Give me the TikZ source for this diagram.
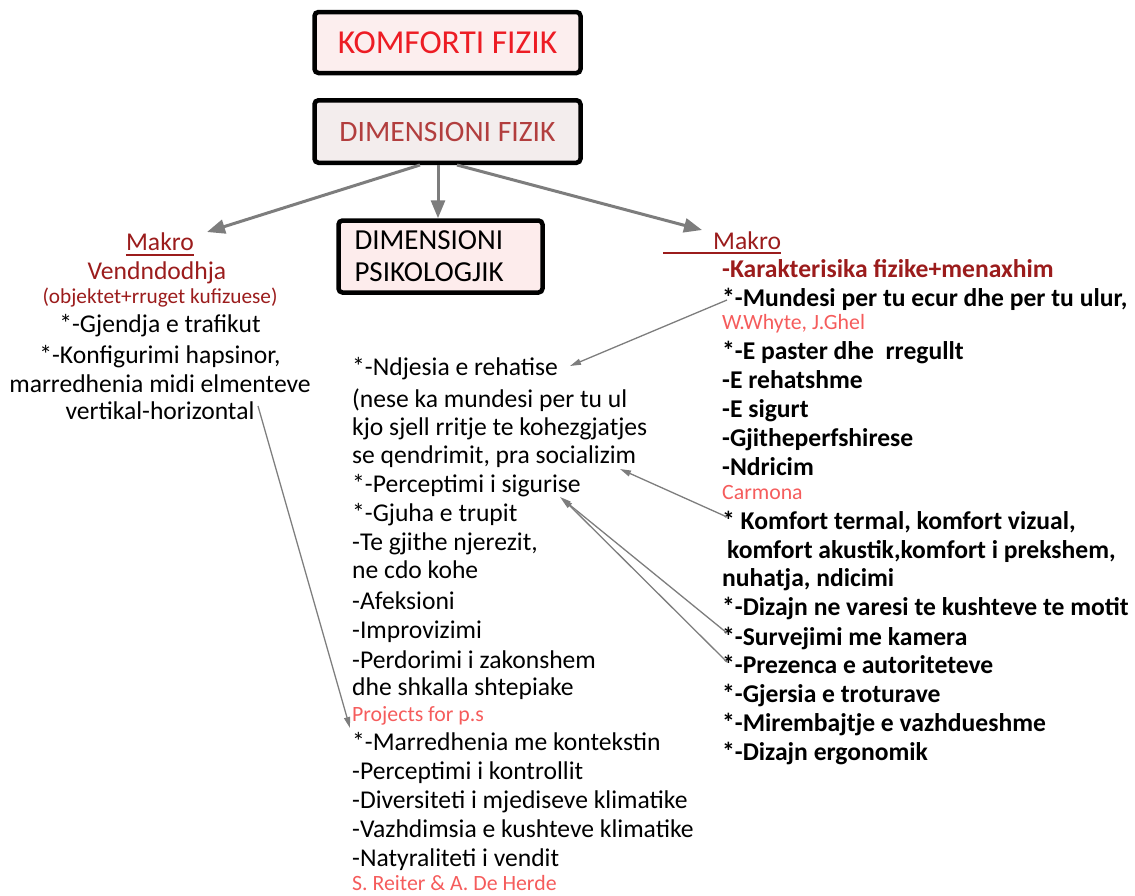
\documentclass[tikz,border=0pt]{standalone}
\usepackage{fontspec}
\setmainfont{Carlito}
\usetikzlibrary{arrows.meta}
\definecolor{titred}{RGB}{237,28,36}
\definecolor{dred}{RGB}{155,28,28}
\definecolor{dimred}{RGB}{178,62,62}
\definecolor{citepink}{RGB}{245,92,92}
\definecolor{arrgray}{RGB}{125,125,125}
\definecolor{fillA}{RGB}{252,238,238}
\definecolor{fillB}{RGB}{243,237,237}
\definecolor{fillC}{RGB}{253,236,236}
\tikzset{
  bigbox/.style={draw=black, line width=4.5pt, rounded corners=4pt, inner sep=0pt},
  txt/.style={anchor=base west, inner sep=0pt, font=\fontsize{25.6}{30}\selectfont},
  btxt/.style={anchor=base west, inner sep=0pt, font=\fontsize{25.6}{30}\selectfont\bfseries},
  ctxt/.style={anchor=base, inner sep=0pt, font=\fontsize{25.6}{30}\selectfont},
  cite/.style={anchor=base west, inner sep=0pt, text=citepink, font=\fontsize{21.8}{26}\selectfont},
  bigarrow/.style={draw=arrgray, line width=3pt, -{Triangle[length=18pt,width=14pt]}},
  thinarrow/.style={draw=arrgray, line width=1.3pt, -{Triangle[length=11pt,width=6pt]}}
}
\begin{document}
\begin{tikzpicture}[x=1pt,y=-1pt]
\useasboundingbox (0,0) rectangle (1135,895);
% boxes
\node[bigbox, fill=fillA, minimum width=266pt, minimum height=61pt, text=titred,
      font=\fontsize{33.5}{38}\selectfont] (box1) at (447.5,42.5) {KOMFORTI FIZIK};
\node[bigbox, fill=fillB, minimum width=266pt, minimum height=62.5pt, text=dimred,
      font=\fontsize{29.6}{34}\selectfont] (box2) at (447.5,131.5) {DIMENSIONI FIZIK};
\node[bigbox, fill=fillC, minimum height=72pt, text width=172pt, inner xsep=16pt,
      align=left, font=\fontsize{29}{32}\selectfont] (box3) at (440.5,256.5) {DIMENSIONI\\PSIKOLOGJIK};
% left column
\node[ctxt, text=dred] (l1) at (160,250) {Makro};
\node[ctxt, text=dred] (l2) at (157,279) {Vendndodhja};
\node[ctxt, text=dred, font=\fontsize{21.3}{25}\selectfont] (l3) at (160,303) {(objektet+rruget kufizuese)};
\node[ctxt] (l4) at (160,332) {*-Gjendja e trafikut};
\node[ctxt] (l5) at (160,363) {*-Konfigurimi hapsinor,};
\node[ctxt] (l6) at (160,392) {marredhenia midi elmenteve};
\node[ctxt] (l7) at (160,419) {vertikal-horizontal};
\draw[dred, line width=1.3pt] ([yshift=-5pt]l1.base west) -- ([yshift=-5pt]l1.base east);
% middle column
\node[txt] (m1) at (352,375) {*-Ndjesia e rehatise};
\node[txt] (m2) at (352,407) {(nese ka mundesi per tu ul};
\node[txt] (m3) at (352,435) {kjo sjell rritje te kohezgjatjes};
\node[txt] (m4) at (352,463) {se qendrimit, pra socializim};
\node[txt] (m5) at (352,492) {*-Perceptimi i sigurise};
\node[txt] (m6) at (352,521) {*-Gjuha e trupit};
\node[txt] (m7) at (352,550) {-Te gjithe njerezit,};
\node[txt] (m8) at (352,578) {ne cdo kohe};
\node[txt] (m9) at (352,609) {-Afeksioni};
\node[txt] (m10) at (352,638) {-Improvizimi};
\node[txt] (m11) at (352,668) {-Perdorimi i zakonshem};
\node[txt] (m12) at (352,695) {dhe shkalla shtepiake};
\node[cite] (m13) at (352,721) {Projects for p.s};
\node[txt] (m14) at (352,750) {*-Marredhenia me kontekstin};
\node[txt] (m15) at (352,779) {-Perceptimi i kontrollit};
\node[txt] (m16) at (352,808) {-Diversiteti i mjediseve klimatike};
\node[txt] (m17) at (352,837) {-Vazhdimsia e kushteve klimatike};
\node[txt] (m18) at (352,866) {-Natyraliteti i vendit};
\node[cite] (m19) at (352,890) {S. Reiter \& A. De Herde};
% right column
\node[txt, text=dred] (r1) at (713,249) {Makro};
\draw[dred, line width=1.3pt] ([xshift=-50pt,yshift=-4pt]r1.base west) -- ([yshift=-4pt]r1.base east);
\node[btxt, text=dred] (r2) at (722,277) {-Karakterisika fizike+menaxhim};
\node[btxt] (r3) at (722,306) {*-Mundesi per tu ecur dhe per tu ulur,};
\node[cite] (r4) at (722,329) {W.Whyte, J.Ghel};
\node[btxt] (r5) at (722,359) {*-E paster dhe\ \ rregullt};
\node[btxt] (r6) at (722,388) {-E rehatshme};
\node[btxt] (r7) at (722,417) {-E sigurt};
\node[btxt] (r8) at (722,446) {-Gjitheperfshirese};
\node[btxt] (r9) at (722,475) {-Ndricim};
\node[cite] (r10) at (722,499) {Carmona};
\node[btxt] (r11) at (722,529) {* Komfort termal, komfort vizual,};
\node[btxt] (r12) at (727,558) {komfort akustik,komfort i prekshem,};
\node[btxt] (r13) at (722,586) {nuhatja, ndicimi};
\node[btxt] (r14) at (722,615) {*-Dizajn ne varesi te kushteve te motit};
\node[btxt] (r15) at (722,645) {*-Survejimi me kamera};
\node[btxt] (r16) at (722,673) {*-Prezenca e autoriteteve};
\node[btxt] (r17) at (722,702) {*-Gjersia e troturave};
\node[btxt] (r18) at (722,731) {*-Mirembajtje e vazhdueshme};
\node[btxt] (r19) at (722,760) {*-Dizajn ergonomik};
% big arrows
\draw[bigarrow] ([xshift=-27.5pt]box2.south) -- ([xshift=47pt,yshift=18pt]l1.base);
\draw[bigarrow] ([xshift=-9.5pt]box2.south) -- ([xshift=-2.5pt]box3.north);
\draw[bigarrow] ([xshift=9.5pt]box2.south) -- ([xshift=-11pt,yshift=19pt]r1.base west);
% thin arrows
\draw[thinarrow] ([xshift=98pt,yshift=13pt]l7.base) -- ([xshift=-2pt,yshift=22pt]m14.base west);
\draw[thinarrow] ([xshift=5pt,yshift=6pt]r3.base west) -- ([xshift=218pt,yshift=9pt]m1.base west);
\draw[thinarrow] ([xshift=5pt,yshift=12pt]r11.base west) -- ([xshift=268pt,yshift=-6pt]m4.base west);
\draw[thinarrow] ([xshift=5pt,yshift=12pt]r15.base west) -- ([xshift=208pt,yshift=-5pt]m5.base west);
\draw[thinarrow] ([xshift=5pt,yshift=11pt]r16.base west) -- ([xshift=210pt,yshift=-6pt]m5.base west);
\end{tikzpicture}
\end{document}
